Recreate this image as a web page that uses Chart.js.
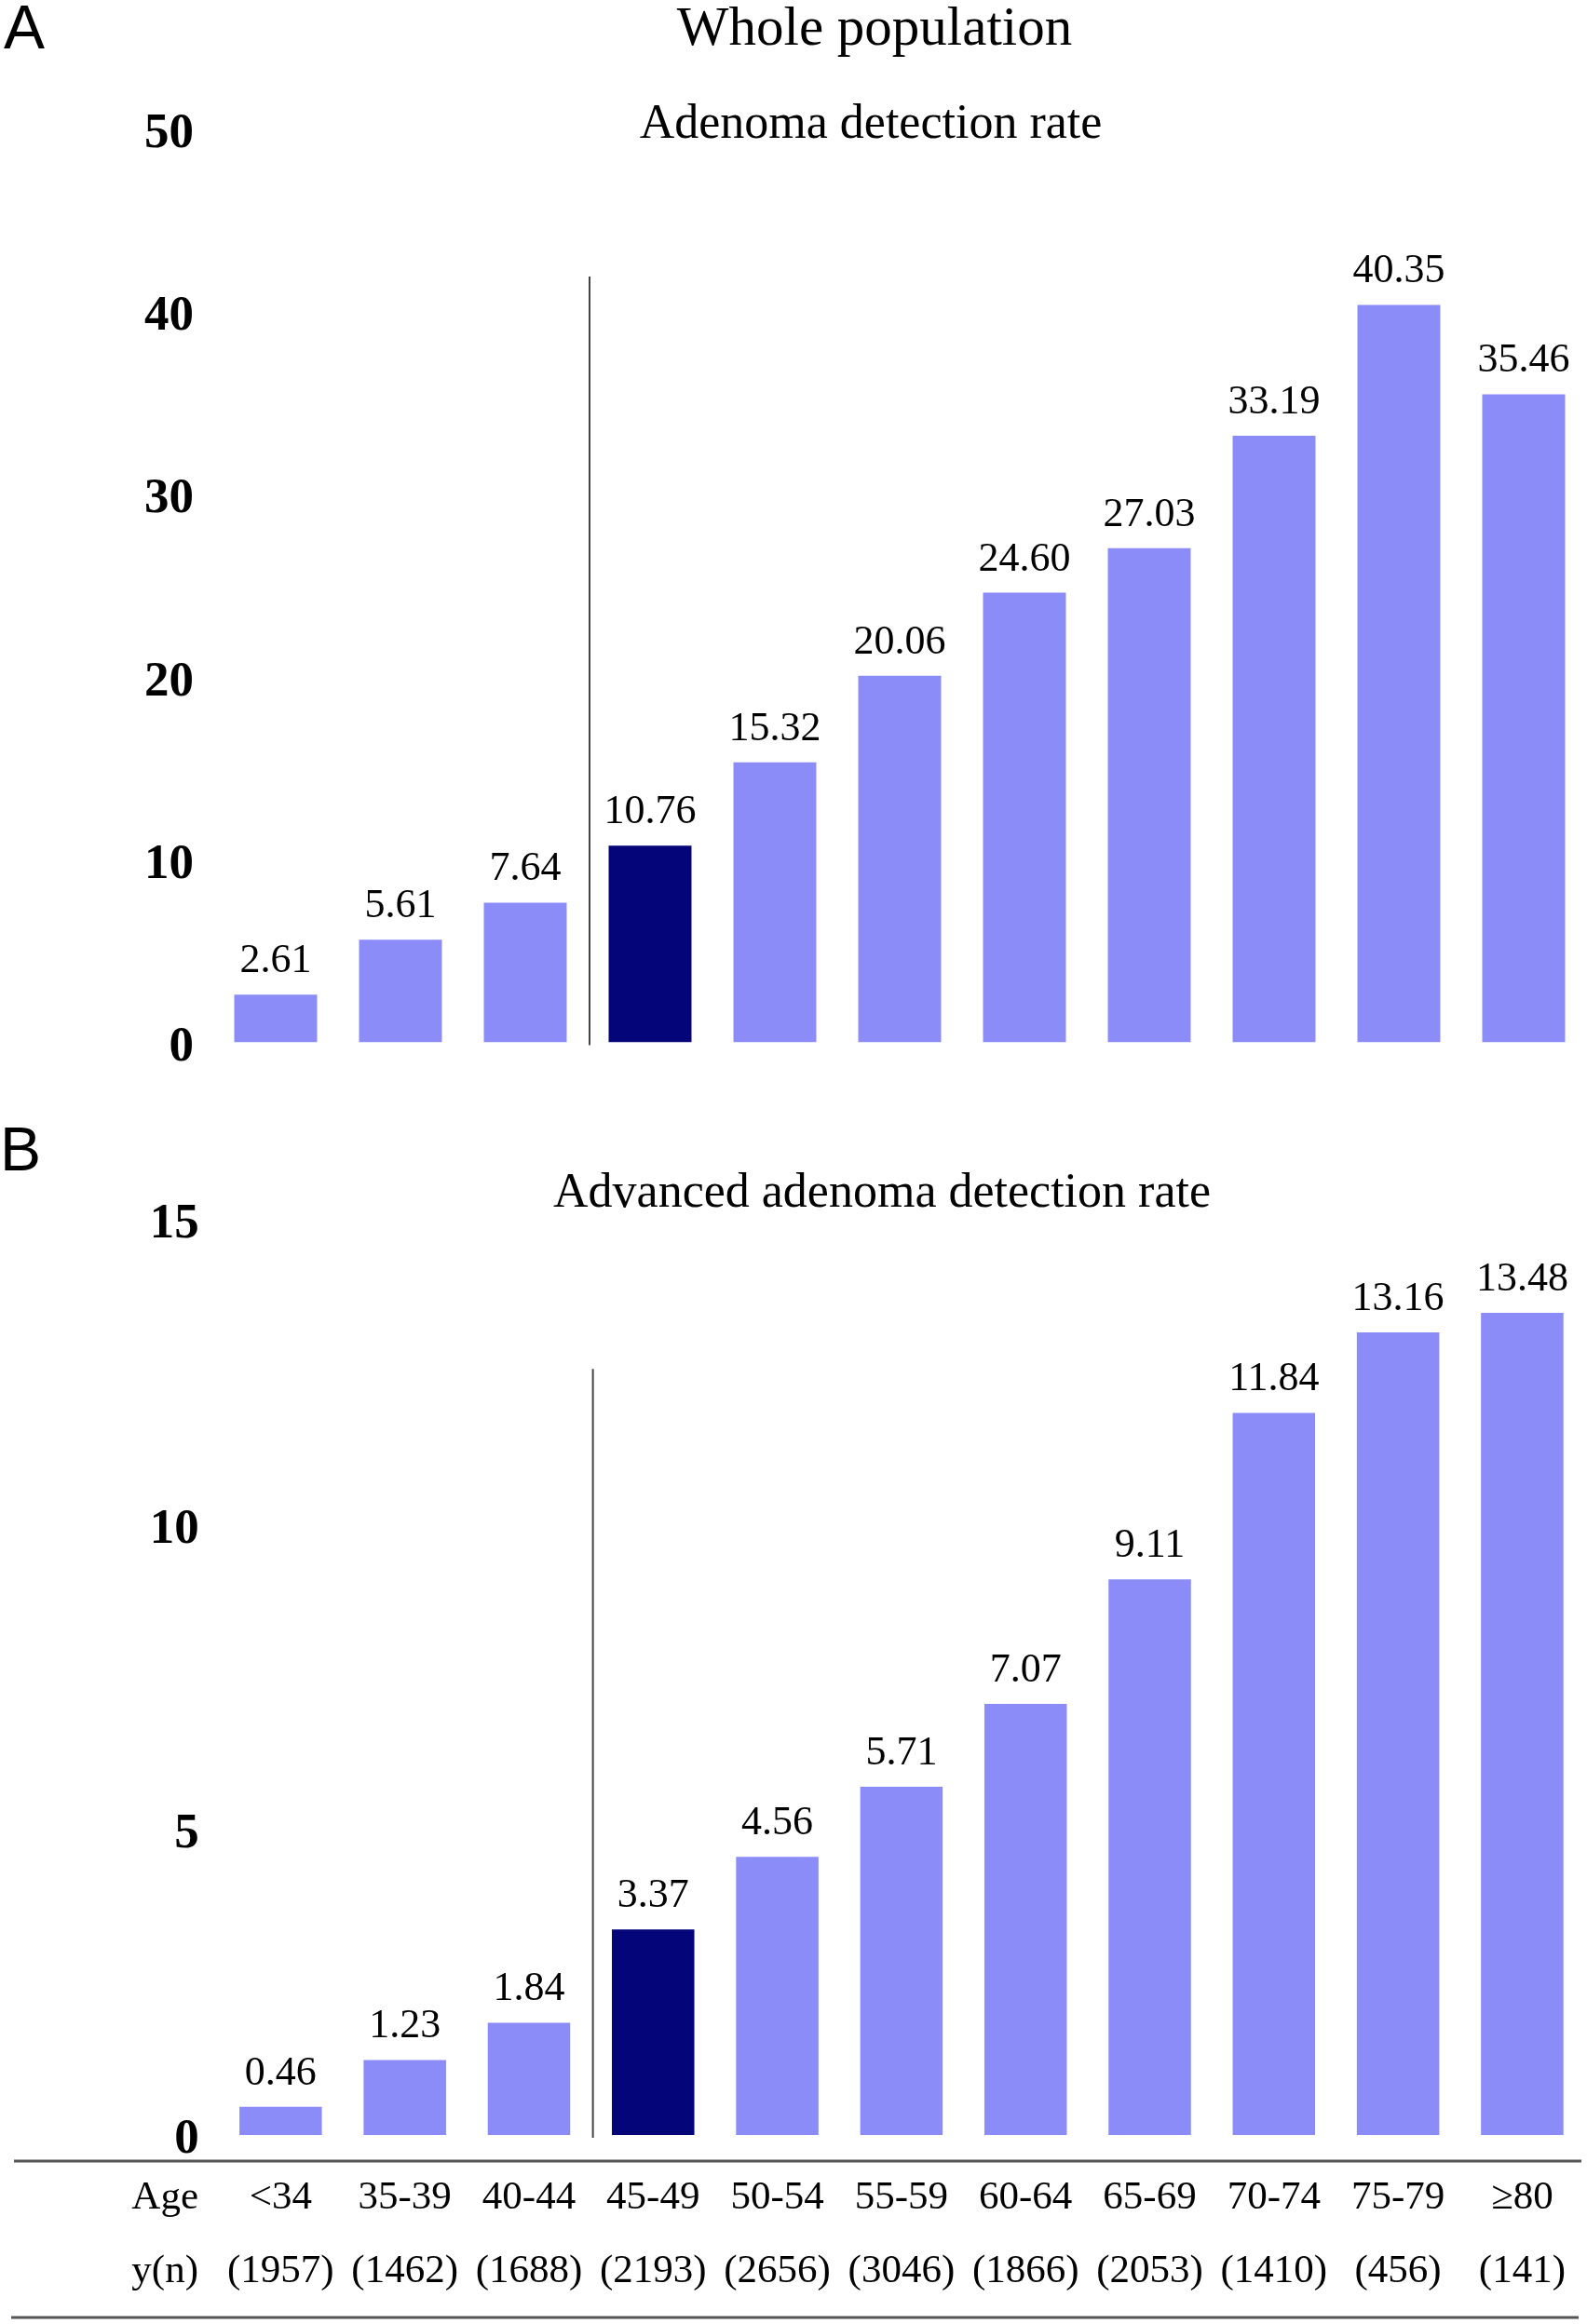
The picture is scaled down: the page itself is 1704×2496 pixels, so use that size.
<!DOCTYPE html>
<html>
<head>
<meta charset="utf-8">
<script src="https://cdn.jsdelivr.net/npm/chart.js@4.4.1/dist/chart.umd.min.js"></script>
<style>
  html, body { margin: 0; padding: 0; background: #fff; overflow: hidden; }
  #page { position: relative; width: 1704px; height: 2496px; overflow: hidden; }
  canvas { position: absolute; left: 0; }
  .txt { position: absolute; white-space: nowrap; line-height: 1; color: #000; }
  .serif { font-family: "Liberation Serif", "Times New Roman", serif; text-align: center; width: 1000px; }
  .panel { font-family: "Liberation Sans", Arial, sans-serif; font-size: 66px; }
</style>
</head>
<body>
<div id="page">
  <div class="txt panel" style="left:4px; top:-4px;">A</div>
  <div class="txt serif" style="left:439px; top:-1px; font-size:59px;">Whole population</div>
  <div class="txt serif" style="left:435px; top:105px; font-size:52px;">Adenoma detection rate</div>
  <canvas id="chartA" width="1704" height="1200" style="top:0; width:1704px; height:1200px;"></canvas>

  <div class="txt panel" style="left:0px; top:1201px;">B</div>
  <div class="txt serif" style="left:447px; top:1253px; font-size:52px;">Advanced adenoma detection rate</div>
  <canvas id="chartB" width="1709" height="1296" style="top:1200px; width:1709px; height:1296px;"></canvas>
</div>

<script>
// ── DATA ────────────────────────────────────────────────────

const ageGroups   = ['<34', '35-39', '40-44', '45-49', '50-54', '55-59', '60-64', '65-69', '70-74', '75-79', '≥80'];
const sampleSizes = [1957, 1462, 1688, 2193, 2656, 3046, 1866, 2053, 1410, 456, 141];
const adrValues   = [2.61, 5.61, 7.64, 10.76, 15.32, 20.06, 24.60, 27.03, 33.19, 40.35, 35.46];
const aadrValues  = [0.46, 1.23, 1.84, 3.37, 4.56, 5.71, 7.07, 9.11, 11.84, 13.16, 13.48];
const adrTicks    = [0, 10, 20, 30, 40, 50];
const aadrTicks   = [0, 5, 10, 15];

const highlightIndex = 3;      // 45-49 group
const dividerTopA = 41.9;      // where the separator line ends (axis units)
const dividerTopB = 12.56;


// ── STYLE ───────────────────────────────────────────────────

const SERIF = '"Liberation Serif", "Times New Roman", serif';
const LIGHT = '#8c8cf8';
const DARK  = '#05057a';

const barColors = ageGroups.map((_, i) => i === highlightIndex ? DARK : LIGHT);


// ── PLUGIN: value labels, separator, table rules ────────────

const annotate = {
  id: 'annotate',
  afterDatasetsDraw(chart, args, opts) {
    const { ctx } = chart;
    const x = chart.scales.x;
    const y = chart.scales.y;
    const values = chart.data.datasets[0].data;
    const meta = chart.getDatasetMeta(0);

    ctx.save();

    // vertical separator between 40-44 and 45-49
    const sx = (x.getPixelForValue(highlightIndex - 1) + x.getPixelForValue(highlightIndex)) / 2 + 2;
    ctx.strokeStyle = '#444';
    ctx.lineWidth = 2;
    ctx.beginPath();
    ctx.moveTo(sx, y.getPixelForValue(opts.dividerTop));
    ctx.lineTo(sx, y.getPixelForValue(0) + 3);
    ctx.stroke();

    // value labels above bars
    ctx.fillStyle = '#000';
    ctx.font = '44px ' + SERIF;
    ctx.textAlign = 'center';
    ctx.textBaseline = 'alphabetic';
    meta.data.forEach((bar, i) => {
      ctx.fillText(values[i].toFixed(2), bar.x, bar.y - 24);
    });

    // table header + rules under panel B
    if (opts.table) {
      const t = x.options.ticks;
      const lh = t.font.size * t.font.lineHeight;
      const row1 = x.top + t.padding + lh / 2;
      ctx.font = t.font.size + 'px ' + SERIF;
      ctx.textAlign = 'right';
      ctx.textBaseline = 'middle';
      ctx.fillText('Age', 213, row1);
      ctx.fillText('y(n)', 213, row1 + lh);

      ctx.strokeStyle = '#555';
      ctx.lineWidth = 3;
      ctx.beginPath();
      ctx.moveTo(15, x.top + 28);
      ctx.lineTo(1698, x.top + 28);
      ctx.moveTo(12, x.top + 196);
      ctx.lineTo(1695, x.top + 196);
      ctx.stroke();
    }

    ctx.restore();
  }
};


// ── CHART BUILDER ───────────────────────────────────────────

function yAxis(ticks, axisWidth, nudge) {
  return {
    min: ticks[0],
    max: ticks[ticks.length - 1],
    afterBuildTicks: s => { s.ticks = ticks.map(v => ({ value: v })); },
    afterFit: s => { s.width = axisWidth; },
    grid: { display: false, drawTicks: false },
    border: { display: false },
    ticks: {
      color: '#000',
      padding: 21,
      labelOffset: nudge,
      font: { family: SERIF, size: 53, weight: 'bold' }
    }
  };
}

function makeChart(id, values, cfg) {
  return new Chart(document.getElementById(id).getContext('2d'), {
    type: 'bar',
    data: {
      labels: cfg.labels,
      datasets: [{
        data: values,
        backgroundColor: barColors,
        barPercentage: 0.664,
        categoryPercentage: 1.0
      }]
    },
    options: {
      responsive: false,
      animation: false,
      devicePixelRatio: 1,
      layout: { padding: cfg.padding },
      plugins: {
        legend: { display: false },
        tooltip: { enabled: false },
        annotate: { dividerTop: cfg.dividerTop, table: cfg.table }
      },
      scales: {
        x: cfg.xAxis,
        y: yAxis(cfg.ticks, cfg.axisWidth, cfg.nudge)
      }
    },
    plugins: [annotate]
  });
}


// ── PANEL A: adenoma detection rate ─────────────────────────

makeChart('chartA', adrValues, {
  labels: ageGroups,
  ticks: adrTicks,
  axisWidth: 229,
  nudge: 6,
  dividerTop: dividerTopA,
  table: false,
  padding: { top: 138, bottom: 80.6, left: 0, right: 1 },
  xAxis: { display: false }
});


// ── PANEL B: advanced adenoma detection rate ────────────────

makeChart('chartB', aadrValues, {
  labels: ageGroups.map((a, i) => [a, '(' + sampleSizes[i] + ')']),
  ticks: aadrTicks,
  axisWidth: 234.7,
  nudge: 5,
  dividerTop: dividerTopB,
  table: true,
  padding: { top: 110.5, bottom: 0, left: 0, right: 0 },
  xAxis: {
    afterFit: s => { s.height = 203; },
    grid: { display: false, drawTicks: false },
    border: { display: false },
    ticks: {
      color: '#000',
      padding: 28,
      autoSkip: false,
      maxRotation: 0,
      minRotation: 0,
      font: { family: SERIF, size: 43, lineHeight: 1.84 }
    }
  }
});
</script>
</body>
</html>
